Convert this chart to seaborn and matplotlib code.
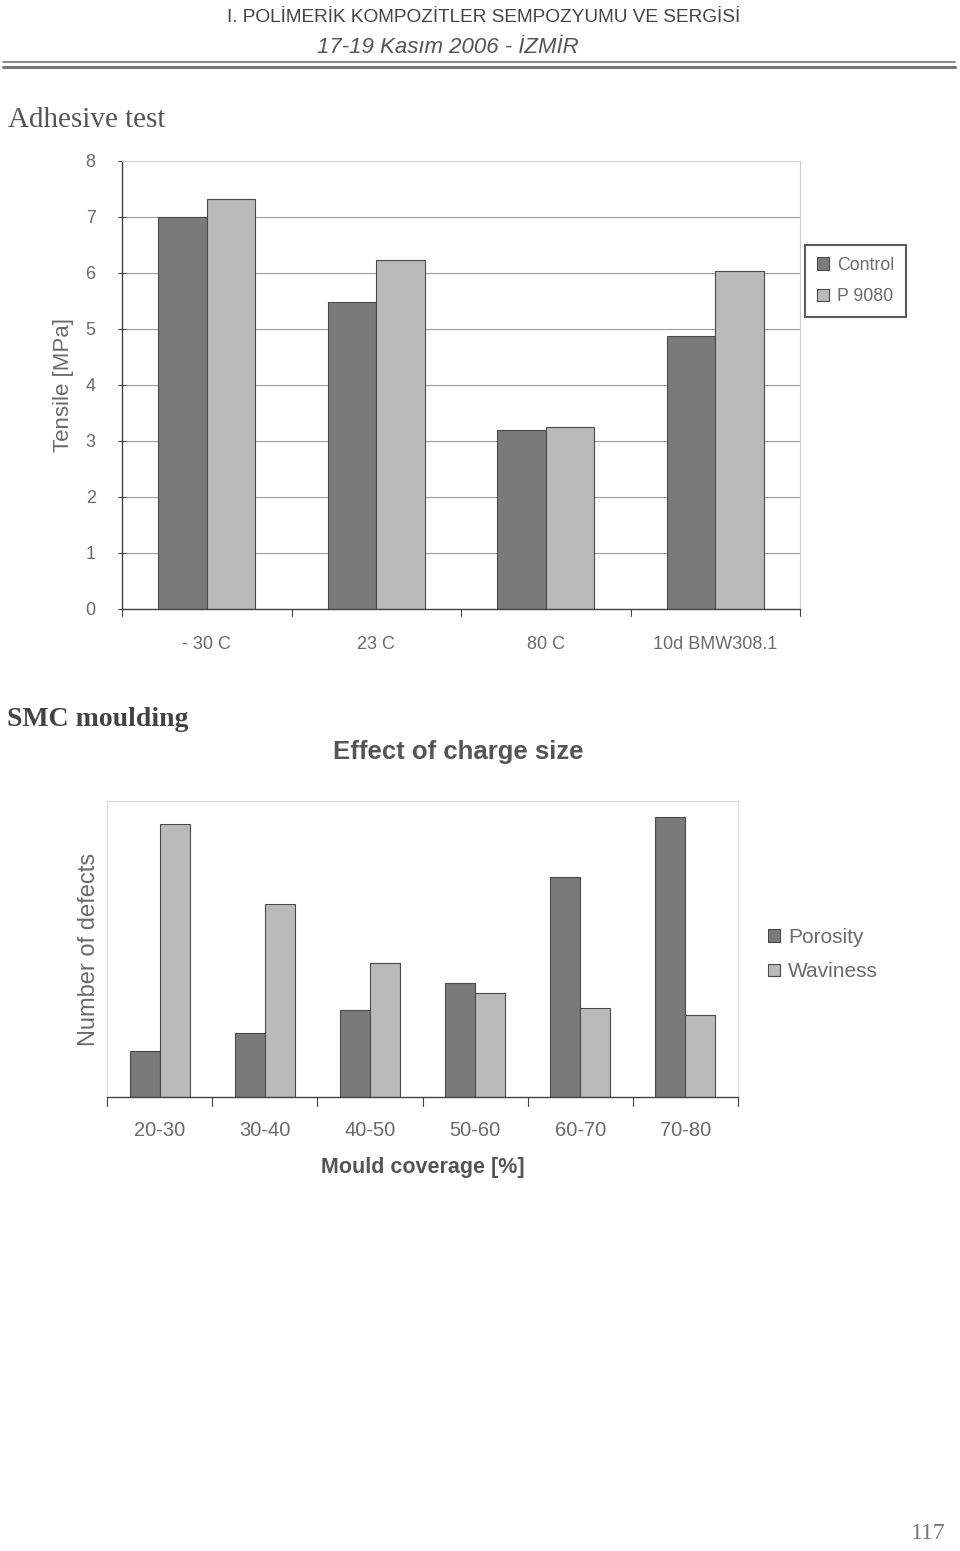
import pandas as pd
import matplotlib.pyplot as plt
import matplotlib.lines as mlines
import seaborn as sns

# Adhesive test data
temps = ['- 30 C', '23 C', '80 C', '10d BMW308.1']
control = [7.0, 5.48, 3.2, 4.88]
p9080 = [7.32, 6.23, 3.25, 6.04]

# SMC moulding data (no y scale in original, relative units)
coverage = ['20-30', '30-40', '40-50', '50-60', '60-70', '70-80']
porosity = [1.55, 2.16, 2.94, 3.85, 7.43, 9.46]
waviness = [9.22, 6.52, 4.53, 3.51, 3.0, 2.77]

df1 = pd.DataFrame({'cond': temps * 2,
                    'val': control + p9080,
                    'series': ['Control'] * 4 + ['P 9080'] * 4})
df2 = pd.DataFrame({'cov': coverage * 2,
                    'val': porosity + waviness,
                    'series': ['Porosity'] * 6 + ['Waviness'] * 6})

sns.set_style('white')
plt.rcParams['font.family'] = ['Liberation Sans', 'DejaVu Sans']

dark, light = '#7a7a7a', '#bababa'
txt = '#6a6a6a'

fig = plt.figure(figsize=(9.6, 15.51), dpi=100)

# Page header
fig.text(0.5035, 0.9885, 'I. POLİMERİK KOMPOZİTLER SEMPOZYUMU VE SERGİSİ',
         ha='center', va='center', fontsize=13.7, color='#444')
fig.text(0.467, 0.9695, '17-19 Kasım 2006 - İZMİR', ha='center', va='center',
         fontsize=16, style='italic', color='#555')
for yy, lw in [(0.9600, 1.2), (0.9565, 2.2)]:
    fig.add_artist(mlines.Line2D([0.003, 0.995], [yy, yy], color='#777', lw=lw))

fig.text(0.008, 0.9225, 'Adhesive test', ha='left', va='center', fontsize=21,
         color='#555', family='Liberation Serif')
fig.text(0.007, 0.536, 'SMC moulding', ha='left', va='center', fontsize=20,
         color='#444', weight='bold', family='Liberation Serif')
fig.text(0.985, 0.0115, '117', ha='right', va='center', fontsize=17,
         color='#777', family='Liberation Serif')

# Chart 1
ax1 = fig.add_axes([0.1271, 0.6074, 0.7063, 0.2888])
sns.barplot(data=df1, x='cond', y='val', hue='series', ax=ax1,
            palette=[dark, light], width=0.57, gap=0,
            edgecolor='#4a4a4a', linewidth=0.8, saturation=1)
ax1.set_ylim(0, 8)
ax1.set_xlim(-0.5, 3.5)
ax1.set_yticks(range(0, 9))
ax1.yaxis.grid(True, color='#9a9a9a', lw=0.8)
ax1.set_axisbelow(True)
ax1.set_xlabel('')
ax1.set_ylabel('Tensile [MPa]', fontsize=16, color=txt, labelpad=8)
ax1.tick_params(axis='y', labelsize=13, labelcolor=txt, left=True,
                length=6, width=0.8, color='#444', direction='inout', pad=16)
ax1.set_xticks(range(4))
ax1.set_xticklabels(temps)
ax1.tick_params(axis='x', labelsize=13, labelcolor=txt, bottom=False, pad=16)
for b in [-0.5, 0.5, 1.5, 2.5, 3.5]:
    ax1.plot([b, b], [0, -0.12], color='#444', lw=0.8, clip_on=False)
for s in ['top', 'right']:
    ax1.spines[s].set_color('#cfcfcf')
    ax1.spines[s].set_linewidth(0.8)
for s in ['left', 'bottom']:
    ax1.spines[s].set_color('#444')
    ax1.spines[s].set_linewidth(1.0)
leg1 = ax1.legend(loc='upper left', bbox_to_anchor=(1.008, 0.812), fontsize=12.8,
                  frameon=True, fancybox=False, handlelength=0.7,
                  handleheight=0.7, handletextpad=0.45, borderpad=0.65,
                  labelspacing=0.8, borderaxespad=0)
leg1.get_frame().set_edgecolor('#333')
leg1.get_frame().set_linewidth(1.5)
for t in leg1.get_texts():
    t.set_color(txt)

# Chart 2
ax2 = fig.add_axes([0.1115, 0.2927, 0.6573, 0.1908])
sns.barplot(data=df2, x='cov', y='val', hue='series', ax=ax2,
            palette=[dark, light], width=0.57, gap=0,
            edgecolor='#4a4a4a', linewidth=0.8, saturation=1)
ax2.set_ylim(0, 10)
ax2.set_xlim(-0.5, 5.5)
ax2.set_yticks([])
ax2.set_xticks(range(6))
ax2.set_xticklabels(coverage)
ax2.tick_params(axis='x', labelsize=14.5, labelcolor=txt, bottom=False, pad=14)
for b in [x - 0.5 for x in range(7)]:
    ax2.plot([b, b], [0, -0.3], color='#444', lw=0.8, clip_on=False)
ax2.set_xlabel('Mould coverage [%]', fontsize=15.5, color='#555',
              weight='bold', labelpad=12)
ax2.set_ylabel('Number of defects', fontsize=17, color=txt, labelpad=5)
ax2.set_title('Effect of charge size', fontsize=18.5, color='#555',
              weight='bold', pad=30, x=0.556)
for s in ['top', 'right', 'left']:
    ax2.spines[s].set_color('#dcdcdc')
    ax2.spines[s].set_linewidth(0.8)
ax2.spines['bottom'].set_color('#444')
ax2.spines['bottom'].set_linewidth(1.0)
leg2 = ax2.legend(loc='upper left', bbox_to_anchor=(1.035, 0.60), fontsize=15,
                  frameon=False, handlelength=0.55, handleheight=0.55,
                  handletextpad=0.4, labelspacing=0.75, borderaxespad=0)
for t in leg2.get_texts():
    t.set_color(txt)

fig.savefig('out.png', dpi=100)
